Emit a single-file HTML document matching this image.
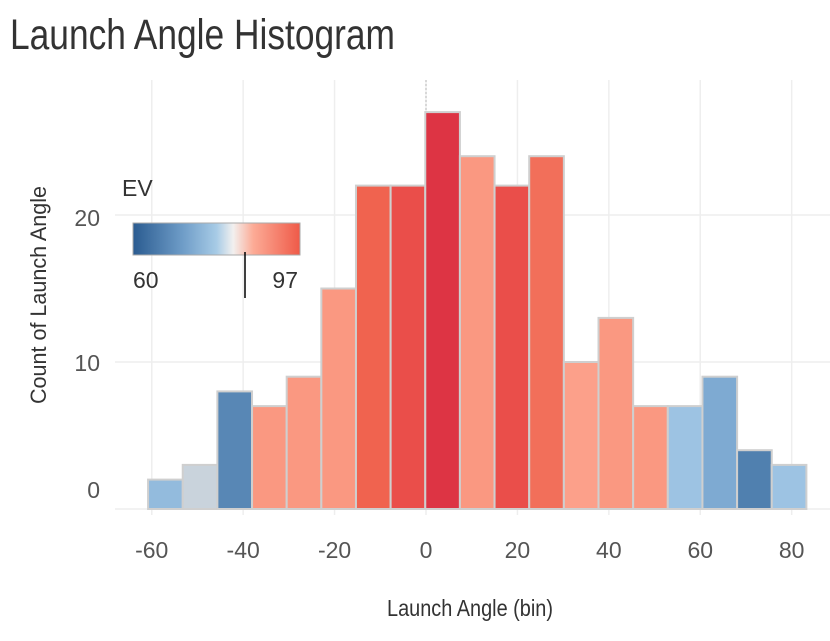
<!DOCTYPE html>
<html><head><meta charset="utf-8"><style>
body{margin:0;background:#fff;width:830px;height:636px;overflow:hidden}
svg text{font-family:"Liberation Sans Narrow","Liberation Sans",sans-serif}
</style></head><body>
<svg id="chart" width="830" height="636">
<defs>
<linearGradient id="evgrad" x1="0" x2="1" y1="0" y2="0">
<stop offset="0" stop-color="#2a5b90"/><stop offset="0.3" stop-color="#6f9dc8"/>
<stop offset="0.5" stop-color="#a7cbe6"/><stop offset="0.6" stop-color="#f2f0ef"/>
<stop offset="0.72" stop-color="#fcab96"/><stop offset="1" stop-color="#ef5a48"/>
</linearGradient>
</defs>
<text x="10" y="49" font-size="43" fill="#333" textLength="385" lengthAdjust="spacingAndGlyphs">Launch Angle Histogram</text>
<g id="grid"></g>
<g id="bars"></g>
<g id="axes"></g>
<text x="0" y="0" font-size="22" fill="#333" text-anchor="middle" textLength="218" lengthAdjust="spacingAndGlyphs" transform="translate(46,295) rotate(-90)">Count of Launch Angle</text>
<text x="470" y="616" font-size="23" fill="#333" text-anchor="middle" textLength="166" lengthAdjust="spacingAndGlyphs">Launch Angle (bin)</text>
<g>
<text x="122" y="196" font-size="23" fill="#333">EV</text>
<rect x="133" y="223" width="167" height="32" fill="url(#evgrad)" stroke="#aaa"/>
<line x1="245" y1="252" x2="245" y2="298" stroke="#000" stroke-width="1.5"/>
<text x="133" y="288" font-size="23" fill="#333">60</text>
<text x="298" y="288" font-size="23" fill="#333" text-anchor="end">97</text>
</g>
</svg>
<script>
const binStart=-60.8, binWidth=7.58;
const counts=[2,3,8,7,9,15,22,22,27,24,22,24,10,13,7,7,9,4,3];
const evs=[72,77,66,86,86,86,91,93,96,86,93,90,85,86,86,73,70,65,73];
const xTicks=[-60,-40,-20,0,20,40,60,80];
const yTicks=[0,10,20];
const stops=[[60,"#2a5b90"],[66,"#5887b5"],[70,"#7eaad2"],[73,"#9dc3e3"],[77,"#c9d3dc"],[80,"#f7eeea"],[85,"#fca08a"],[88,"#f78770"],[91,"#f0634f"],[93,"#ea4e4a"],[96,"#dd3444"],[97,"#d62f3f"]];
const X=v=>426+v*4.571, Y=v=>509-v*14.7;
function hex(c){return [1,3,5].map(i=>parseInt(c.substr(i,2),16));}
function col(e){for(let i=1;i<stops.length;i++){if(e<=stops[i][0]){const a=stops[i-1],b=stops[i];const t=(e-a[0])/(b[0]-a[0]);const A=hex(a[1]),B=hex(b[1]);return "rgb("+A.map((v,k)=>Math.round(v+(B[k]-v)*t)).join(",")+")";}}return stops[stops.length-1][1];}
const NS="http://www.w3.org/2000/svg";
const g=document.getElementById("grid"),b=document.getElementById("bars"),ax=document.getElementById("axes");
function mk(tag,attrs,p){const e=document.createElementNS(NS,tag);for(const k in attrs)e.setAttribute(k,attrs[k]);p.appendChild(e);return e;}
xTicks.forEach(t=>{
 const l=mk("line",{x1:X(t),x2:X(t),y1:80,y2:515,stroke:"#eeeeee","stroke-width":1.5},g);
 
 
 const tx=mk("text",{x:X(t),y:558,"font-size":23,fill:"#555","text-anchor":"middle"},ax);
 tx.textContent=t;
 
 
});
const yLabelPos={0:490,10:363,20:218};
yTicks.forEach(t=>{
 const l=mk("line",{x1:115,x2:830,y1:Y(t),y2:Y(t),stroke:"#eeeeee","stroke-width":1.5},g);
 
 
 const tx=mk("text",{x:100,y:(yLabelPos[t]||Y(t))+8,"font-size":23,fill:"#555","text-anchor":"end"},ax);
 tx.textContent=t;
 
 
});
const zl=mk("line",{x1:X(0),x2:X(0),y1:80,y2:Y(27),stroke:"#bbb","stroke-dasharray":"2,2"},g);


counts.forEach((c,i)=>{
 const x0=X(binStart+i*binWidth),x1=X(binStart+(i+1)*binWidth);
 const r=mk("rect",{x:x0,y:Y(c),width:x1-x0,height:Y(0)-Y(c),fill:col(evs[i]),stroke:"#cfcfcf","stroke-width":2},b);
 
 
});
</script>
</body></html>
